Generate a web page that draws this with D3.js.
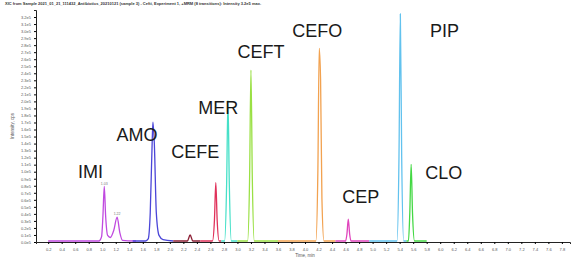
<!DOCTYPE html>
<html>
<head>
<meta charset="utf-8">
<script src="https://cdn.jsdelivr.net/npm/d3@7"></script>
<style>
  body { margin: 0; background: #fff; }
  svg { display: block; font-family: "Liberation Sans", Arial, sans-serif; }
</style>
</head>
<body>
<div id="chart"></div>
<script>
// compounds, in elution order
var names = ["IMI", "AMO", "X", "CEFE", "MER", "CEFT", "CEFO", "CEP", "PIP", "CLO"];
var colors = ["#c04ae0", "#4b46d8", "#8c1f35", "#e0315a", "#46e0c8", "#9ae044", "#f2a250", "#e044bc", "#62c2ee", "#44d844"];

// traces: [time (min), intensity (cps)]
var imiTrace = [[0.2,0],[0.95,0],[0.99,6000],[1.01,35000],[1.03,77500],[1.05,36000],[1.08,8000],[1.12,5000],[1.17,15000],[1.22,34000],[1.26,12000],[1.30,1000],[1.5,0]];
var amoTrace = [[1.45,0],[1.64,0],[1.68,3000],[1.71,40000],[1.74,145000],[1.75,169000],[1.77,140000],[1.80,40000],[1.84,8000],[1.9,2000],[2.05,0]];
var xTrace   = [[2.05,0],[2.26,0],[2.30,8500],[2.34,0],[2.45,0]];
var cefeTrace = [[2.45,0],[2.63,0],[2.66,30000],[2.68,83000],[2.70,30000],[2.73,0],[2.76,0]];
var merTrace = [[2.76,0],[2.81,0],[2.84,80000],[2.86,200000],[2.88,80000],[2.91,0],[3.0,0]];
var ceftTrace = [[3.0,0],[3.15,0],[3.18,90000],[3.20,243000],[3.22,90000],[3.25,0],[3.6,0]];
var cefoTrace = [[3.6,0],[4.16,0],[4.19,100000],[4.21,274000],[4.23,230000],[4.25,60000],[4.28,0],[4.45,0]];
var cepTrace = [[4.45,0],[4.60,0],[4.62,10000],[4.64,31000],[4.66,10000],[4.68,0],[4.95,0]];
var pipTrace = [[4.95,0],[5.36,0],[5.39,120000],[5.41,323000],[5.43,120000],[5.46,0],[5.5,0]];
var cloTrace = [[5.5,0],[5.53,0],[5.55,40000],[5.57,109000],[5.59,40000],[5.62,0],[5.8,0]];
var traces = [imiTrace, amoTrace, xTrace, cefeTrace, merTrace, ceftTrace, cefoTrace, cepTrace, pipTrace, cloTrace];

// peak name labels, anchored in data units
var labelNames = ["IMI", "AMO", "CEFE", "MER", "CEFT", "CEFO", "CEP", "PIP", "CLO"];
var labelTimes = [0.64, 1.21, 2.02, 2.42, 3.00, 3.81, 4.55, 5.85, 5.78];
var labelInts  = [91000, 144000, 119000, 182000, 262000, 292000, 55000, 292000, 90000];

// retention time tags on the IMI peaks
var rtTimes = [1.03, 1.22];
var rtInts  = [77500, 34000];

// axis ticks
var xTicks = d3.range(0.2, 7.81, 0.2);
var yTicks = d3.range(0, 320001, 10000);

var width = 577, height = 260;
var mLeft = 36, mRight = 570, mTop = 10, mBottom = 242;

var svg = d3.select('#chart').append('svg')
  .attr('width', width)
  .attr('height', height);

var x = d3.scaleLinear().domain([0.02, 7.92]).range([mLeft, mRight]);
var y = d3.scaleLinear().domain([0, 330000]).range([mBottom, mTop]);

// title
svg.append('text')
  .attr('x', 5).attr('y', 5)
  .attr('font-size', 4).attr('font-weight', 'bold').attr('fill', '#333')
  .text('XIC from Sample 2021_01_21_111432_Antibiotics_20210121 (sample 3) - Cefti, Experiment 1, +MRM (8 transitions): Intensity 3.2e5 max.');

// axes
var xAxis = d3.axisBottom(x).tickValues(xTicks).tickSize(2).tickFormat(d3.format('.1f'));
var gx = svg.append('g').attr('transform', 'translate(0,' + mBottom + ')').call(xAxis);
gx.select('.domain').attr('stroke', '#222');
gx.selectAll('text').attr('font-size', 4).attr('fill', '#555').attr('dy', '0.9em');

var yAxis = d3.axisLeft(y).tickValues(yTicks).tickSize(2)
  .tickFormat(function(d) { return (d / 1e5).toFixed(1) + 'e5'; });
var gy = svg.append('g').attr('transform', 'translate(' + mLeft + ',0)').call(yAxis);
gy.select('.domain').attr('stroke', '#222');
gy.selectAll('text').attr('font-size', 4).attr('fill', '#555');

svg.append('text')
  .attr('transform', 'translate(14,' + ((mTop + mBottom) / 2) + ') rotate(-90)')
  .attr('text-anchor', 'middle').attr('font-size', 4.5).attr('fill', '#555')
  .text('Intensity, cps');

svg.append('text')
  .attr('x', 305).attr('y', 257)
  .attr('text-anchor', 'middle').attr('font-size', 4.5).attr('fill', '#555')
  .text('Time, min');

// traces
var line = d3.line()
  .x(function(d) { return x(d[0]); })
  .y(function(d) { return y(d[1]) - 1; })
  .curve(d3.curveMonotoneX);

svg.selectAll('path.trace')
  .data(traces)
  .enter()
  .append('path')
  .attr('class', 'trace')
  .attr('d', line)
  .attr('fill', 'none')
  .attr('stroke', function(d, i) { return colors[i]; })
  .attr('stroke-width', 1.3);

// retention time tags
svg.selectAll('text.rt')
  .data(rtTimes)
  .enter()
  .append('text')
  .attr('class', 'rt')
  .attr('x', function(d) { return x(d); })
  .attr('y', function(d, i) { return y(rtInts[i]) - 3; })
  .attr('text-anchor', 'middle').attr('font-size', 3.5).attr('fill', '#777')
  .text(function(d) { return d.toFixed(2); });

// peak names
svg.selectAll('text.peak')
  .data(labelNames)
  .enter()
  .append('text')
  .attr('class', 'peak')
  .attr('x', function(d, i) { return x(labelTimes[i]); })
  .attr('y', function(d, i) { return y(labelInts[i]); })
  .attr('font-size', 18).attr('fill', '#1a1a1a')
  .text(function(d) { return d; });
</script>
</body>
</html>
